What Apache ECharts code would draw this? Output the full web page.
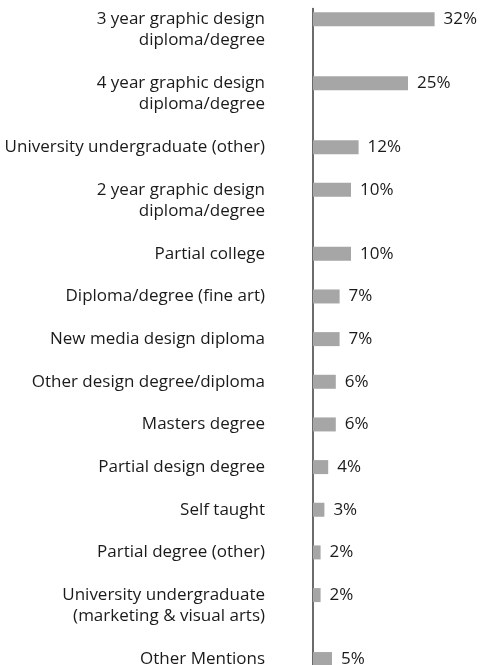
<!DOCTYPE html>
<html>
<head>
<meta charset="utf-8">
<script src="https://cdn.jsdelivr.net/npm/echarts@6/dist/echarts.min.js"></script>
<style>
  html, body { margin: 0; padding: 0; background: #ffffff; overflow: hidden; }
  #chart { width: 482px; height: 680px; }
</style>
</head>
<body>
<div id="chart"></div>
<script>
// Education background of respondents (share of mentions)
const categories = [
  '3 year graphic design\ndiploma/degree',
  '4 year graphic design\ndiploma/degree',
  'University undergraduate (other)',
  '2 year graphic design\ndiploma/degree',
  'Partial college',
  'Diploma/degree (fine art)',
  'New media design diploma',
  'Other design degree/diploma',
  'Masters degree',
  'Partial design degree',
  'Self taught',
  'Partial degree (other)',
  'University undergraduate\n(marketing & visual arts)',
  'Other Mentions'
];
const values = [32, 25, 12, 10, 10, 7, 7, 6, 6, 4, 3, 2, 2, 5];

// Each text line gets its own row on the category axis, and a spacer row
// separates entries, so multi-line labels push the following bars down.
const rowLabels = [];
const rowValues = [];
categories.forEach((name, i) => {
  if (i > 0) {
    rowLabels.push('');
    rowValues.push('-');
  }
  name.split('\n').forEach((line, j) => {
    rowLabels.push(line);
    rowValues.push(j === 0 ? values[i] : '-');
  });
});

const unit = 21.33;
const chart = echarts.init(document.getElementById('chart'), null, { renderer: 'canvas' });
chart.setOption({
  animation: false,
  backgroundColor: '#ffffff',
  textStyle: { fontFamily: 'Open Sans' },
  grid: {
    left: 313,
    right: 17,
    top: 8.5,
    height: unit * rowLabels.length,
    containLabel: false
  },
  xAxis: {
    type: 'value',
    min: 0,
    max: 40,
    show: false
  },
  yAxis: {
    type: 'category',
    inverse: true,
    data: rowLabels,
    axisLine: { show: true, lineStyle: { color: '#3a3a3a', width: 1.5 } },
    axisTick: { show: false },
    splitLine: { show: false },
    axisLabel: {
      interval: 0,
      margin: 48,
      color: '#1a1a1a',
      fontSize: 17,
      fontFamily: 'Open Sans',
      align: 'right'
    }
  },
  series: [{
    type: 'bar',
    data: rowValues,
    barWidth: 14,
    itemStyle: { color: '#a6a6a6' },
    label: {
      show: true,
      position: 'right',
      distance: 9,
      color: '#1a1a1a',
      fontSize: 17,
      fontFamily: 'Open Sans',
      formatter: p => p.value + '%'
    }
  }]
});
</script>
</body>
</html>
